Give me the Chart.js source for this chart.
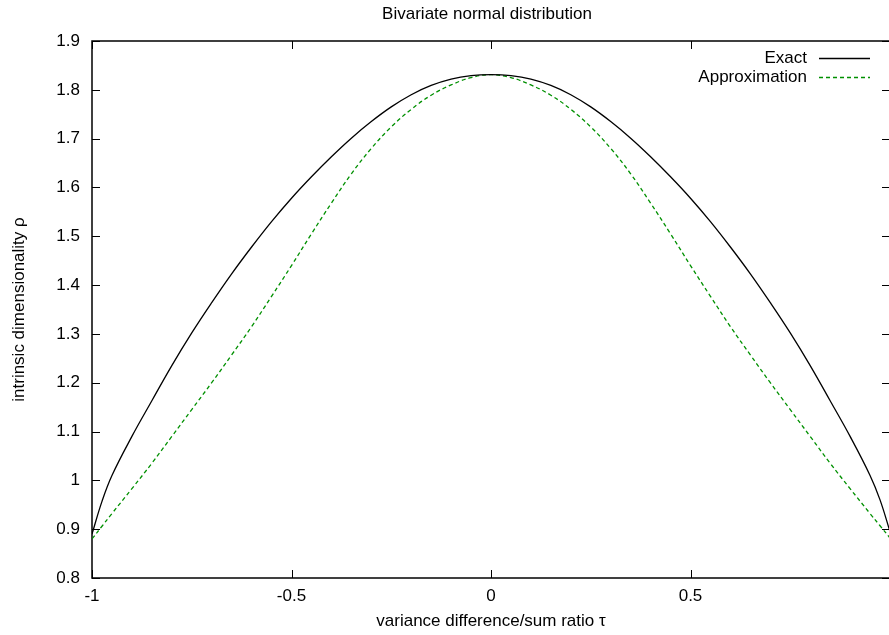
<!DOCTYPE html>
<html>
<head>
<meta charset="utf-8">
<title>Bivariate normal distribution</title>
<script src="https://cdn.jsdelivr.net/npm/chart.js@4.4.0/dist/chart.umd.min.js"></script>
<style>
  html, body { margin: 0; padding: 0; overflow: hidden; background: #fff; }
  #wrap { position: relative; width: 900px; height: 635px; }
</style>
</head>
<body>
<div id="wrap"><canvas id="dimChart"></canvas></div>
<script>
// values
const tau = [-1, -0.975, -0.95, -0.9, -0.85, -0.8, -0.75, -0.7, -0.65, -0.6, -0.55, -0.5,
             -0.45, -0.4, -0.35, -0.3, -0.25, -0.2, -0.15, -0.1, -0.05, 0,
             0.05, 0.1, 0.15, 0.2, 0.25, 0.3, 0.35, 0.4, 0.45, 0.5,
             0.55, 0.6, 0.65, 0.7, 0.75, 0.8, 0.85, 0.9, 0.95, 0.975, 1];
const exactRho = [0.89, 0.957, 1.01, 1.09, 1.163, 1.235, 1.302, 1.364, 1.423, 1.478, 1.53, 1.578,
                  1.622, 1.663, 1.701, 1.735, 1.765, 1.79, 1.809, 1.822, 1.829, 1.831,
                  1.829, 1.822, 1.809, 1.79, 1.765, 1.735, 1.701, 1.663, 1.622, 1.578,
                  1.53, 1.478, 1.423, 1.364, 1.302, 1.235, 1.163, 1.09, 1.01, 0.96, 0.895];
const approxRho = [0.88, 0.906, 0.932, 0.983, 1.035, 1.09, 1.145, 1.2, 1.257, 1.315, 1.377, 1.44,
                   1.505, 1.568, 1.628, 1.68, 1.724, 1.76, 1.789, 1.81, 1.825, 1.831,
                   1.825, 1.81, 1.789, 1.76, 1.724, 1.68, 1.628, 1.568, 1.505, 1.44,
                   1.377, 1.315, 1.257, 1.2, 1.145, 1.09, 1.035, 0.983, 0.932, 0.907, 0.882];
const xTicks = [-1, -0.5, 0, 0.5, 1];
const yTicks = [0.8, 0.9, 1, 1.1, 1.2, 1.3, 1.4, 1.5, 1.6, 1.7, 1.8, 1.9];

const FONT = '"Liberation Sans", Arial, Helvetica, sans-serif';
const fmt = v => String(Math.round(v * 100) / 100);

// gnuplot-like frame with inward ticks, title and legend
const gnuplotLook = {
    id: 'gnuplotLook',
    beforeDatasetsDraw(chart) {
        const { ctx, chartArea: a, scales: { x, y } } = chart;
        ctx.save();
        ctx.strokeStyle = '#000';
        ctx.lineWidth = 1;
        ctx.beginPath();
        xTicks.forEach(v => {
            const px = Math.round(x.getPixelForValue(v)) + 0.5;
            ctx.moveTo(px, a.bottom); ctx.lineTo(px, a.bottom - 8);
            ctx.moveTo(px, a.top); ctx.lineTo(px, a.top + 8);
        });
        yTicks.forEach(v => {
            const py = Math.round(y.getPixelForValue(v)) + 0.5;
            ctx.moveTo(a.left, py); ctx.lineTo(a.left + 8, py);
            ctx.moveTo(a.right, py); ctx.lineTo(a.right - 8, py);
        });
        ctx.stroke();
        ctx.lineWidth = 1.5;
        ctx.strokeRect(a.left, a.top, a.right - a.left, a.bottom - a.top);
        ctx.restore();
    },
    afterDraw(chart) {
        const { ctx, chartArea: a } = chart;
        ctx.save();
        ctx.fillStyle = '#000';
        ctx.font = '17px ' + FONT;
        ctx.textBaseline = 'middle';
        ctx.textAlign = 'center';
        ctx.fillText('Bivariate normal distribution', (a.left + a.right) / 2 - 4, 14);

        ctx.textAlign = 'right';
        chart.data.datasets.forEach((ds, i) => {
            const ly = a.top + 17 + i * 19;
            ctx.fillStyle = '#000';
            ctx.fillText(ds.label, a.right - 83, ly);
            ctx.strokeStyle = ds.borderColor;
            ctx.lineWidth = ds.borderWidth;
            ctx.setLineDash(ds.borderDash || []);
            ctx.beginPath();
            ctx.moveTo(a.right - 71, ly + 0.5);
            ctx.lineTo(a.right - 20, ly + 0.5);
            ctx.stroke();
        });
        ctx.restore();
    }
};

const ctx = document.getElementById('dimChart').getContext('2d');
const dimChart = new Chart(ctx, {
    type: 'line',
    data: {
        datasets: [{
            label: 'Exact',
            data: tau.map((t, i) => ({ x: t, y: exactRho[i] })),
            borderColor: '#000000',
            borderWidth: 1.3,
            pointRadius: 0,
            tension: 0.4,
            fill: false
        }, {
            label: 'Approximation',
            data: tau.map((t, i) => ({ x: t, y: approxRho[i] })),
            borderColor: '#009000',
            borderWidth: 1.3,
            borderDash: [4, 3],
            pointRadius: 0,
            tension: 0.4,
            fill: false
        }]
    },
    options: {
        responsive: true,
        maintainAspectRatio: false,
        animation: false,
        devicePixelRatio: 1,
        layout: { padding: { top: 41, right: 10, bottom: 0, left: 0 } },
        plugins: {
            legend: { display: false },
            title: { display: false },
            tooltip: { enabled: false }
        },
        scales: {
            x: {
                type: 'linear',
                min: -1,
                max: 1,
                afterFit: s => { s.height = 57; },
                afterBuildTicks: s => { s.ticks = xTicks.map(v => ({ value: v })); },
                grid: { display: false, drawTicks: false },
                border: { display: false },
                ticks: {
                    color: '#000',
                    font: { family: FONT, size: 17 },
                    padding: 8,
                    maxRotation: 0,
                    autoSkip: false,
                    callback: v => (v === 1 ? '' : fmt(v))
                },
                title: {
                    display: true,
                    text: 'variance difference/sum ratio τ',
                    color: '#000',
                    font: { family: FONT, size: 17 },
                    padding: { top: 0, bottom: 3 }
                }
            },
            y: {
                type: 'linear',
                min: 0.8,
                max: 1.9,
                afterFit: s => { s.width = 92; },
                afterBuildTicks: s => { s.ticks = yTicks.map(v => ({ value: v })); },
                grid: { display: false, drawTicks: false },
                border: { display: false },
                ticks: {
                    color: '#000',
                    font: { family: FONT, size: 17 },
                    padding: 12,
                    autoSkip: false,
                    callback: v => fmt(v)
                },
                title: {
                    display: true,
                    text: 'intrinsic dimensionality ρ',
                    color: '#000',
                    font: { family: FONT, size: 17 },
                    padding: { top: 9, bottom: 0 }
                }
            }
        }
    },
    plugins: [gnuplotLook]
});
</script>
</body>
</html>
